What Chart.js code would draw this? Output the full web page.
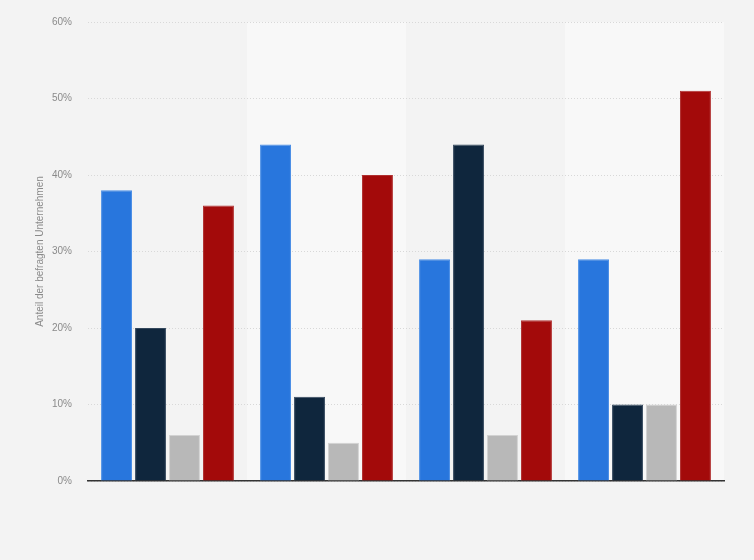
<!DOCTYPE html>
<html>
<head>
<meta charset="utf-8">
<script src="https://cdn.jsdelivr.net/npm/chart.js@4.4.0/dist/chart.umd.min.js"></script>
<style>
html,body{margin:0;padding:0;background:#f3f3f3;}
#wrap{width:754px;height:560px;position:relative;}
</style>
</head>
<body>
<div id="wrap"><canvas id="c" width="754" height="560"></canvas></div>
<script>
const categories = ["Gruppe 1", "Gruppe 2", "Gruppe 3", "Gruppe 4"];
const seriesA = [38, 44, 29, 29];
const seriesB = [20, 11, 44, 10];
const seriesC = [6, 5, 6, 10];
const seriesD = [36, 40, 21, 51];
const yTicks = [0, 10, 20, 30, 40, 50, 60];

const bgPlugin = {
  id: 'bg',
  beforeDraw(chart) {
    const ctx = chart.ctx;
    const a = chart.chartArea;
    const x = chart.scales.x;
    ctx.save();
    ctx.fillStyle = '#f3f3f3';
    ctx.fillRect(0, 0, chart.width, chart.height);
    const w = (a.right - a.left) / categories.length;
    categories.forEach((c, i) => {
      const cx = x.getPixelForValue(i);
      ctx.fillStyle = (i % 2 === 1) ? '#f8f8f8' : '#f3f3f3';
      ctx.fillRect(cx - w / 2, a.top, w, a.bottom - a.top);
    });
    ctx.restore();
  }
};

const mk = (label, data, color, border) => ({
  label, data, backgroundColor: color, borderColor: border, borderWidth: 1,
  categoryPercentage: 0.855, barPercentage: 0.91
});

new Chart(document.getElementById('c'), {
  type: 'bar',
  data: {
    labels: categories,
    datasets: [
      mk('A', seriesA, '#2876dd', '#4a8ee6'),
      mk('B', seriesB, '#0f263d', '#33475c'),
      mk('C', seriesC, '#b8b8b8', '#d2d2d2'),
      mk('D', seriesD, '#a30a0a', '#b03030')
    ]
  },
  options: {
    responsive: false,
    animation: false,
    devicePixelRatio: 1,
    layout: { padding: { top: 20, right: 30, bottom: 79, left: 0 } },
    plugins: { legend: { display: false }, tooltip: { enabled: false } },
    scales: {
      x: {
        ticks: { display: false },
        grid: { display: false, drawTicks: false },
        border: { display: true, color: '#333333', width: 1.5 },
        afterFit(s) { s.height = 0; }
      },
      y: {
        min: 0, max: 60,
        afterBuildTicks(s) { s.ticks = yTicks.map(v => ({ value: v })); },
        ticks: {
          padding: 16,
          color: '#8a8a8a',
          font: { family: 'Liberation Sans, Arial, sans-serif', size: 10 },
          callback: v => v + '%'
        },
        grid: { color: '#d8d8d8', drawTicks: false, lineWidth: 1 },
        border: { display: false, dash: [1, 2] },
        title: {
          display: true,
          text: 'Anteil der befragten Unternehmen',
          color: '#8a8a8a',
          font: { family: 'Liberation Sans, Arial, sans-serif', size: 10 },
          padding: { top: 34, bottom: 0 }
        },
        afterFit(s) { s.width = 88; }
      }
    }
  },
  plugins: [bgPlugin, {
    id: 'dashgrid',
    beforeDatasetsDraw() {}
  }]
});
</script>
</body>
</html>
